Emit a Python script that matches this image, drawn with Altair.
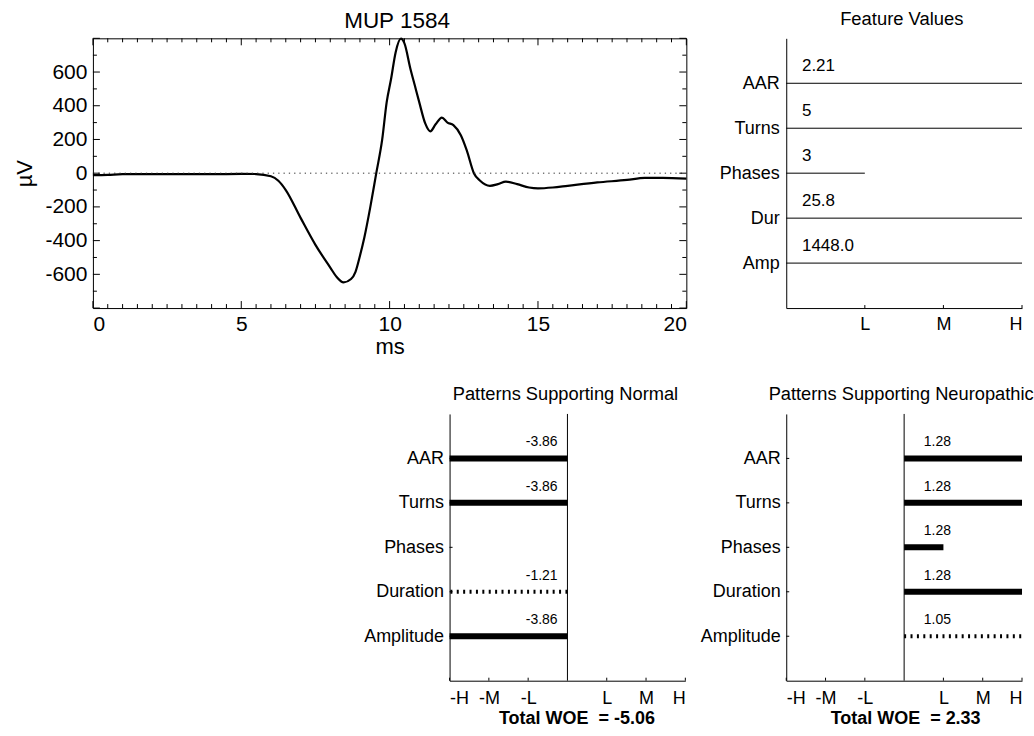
import json
import altair as alt
import pandas as pd

FONT = "Liberation Sans"

# ---- MUP waveform: time (ms) and amplitude (µV) ----
t_ms = [0, 0.5, 1, 2, 3, 4, 5, 5.5, 6.0, 6.25, 6.5, 7.0, 7.5, 8.0, 8.2, 8.45,
        8.7, 8.85, 9.0, 9.15, 9.35, 9.55, 9.75, 9.9, 10.05, 10.2, 10.38, 10.5,
        10.7, 10.85, 11.0, 11.2, 11.37, 11.55, 11.76, 11.95, 12.15, 12.4, 12.6,
        12.84, 13.05, 13.38, 13.65, 13.92, 14.3, 14.7, 15.0, 15.5, 16.0, 17.0,
        18.0, 18.6, 19.2, 20.0]
amp_uv = [-12, -10, -6, -5, -5, -6, -4, -5, -18, -45, -100, -265, -425, -560,
          -612, -648, -628, -585, -490, -380, -200, 0, 200, 420, 560, 715, 798,
          770, 620, 520, 420, 295, 248, 290, 330, 300, 285, 225, 135, 0, -45,
          -75, -65, -50, -65, -85, -90, -85, -75, -55, -40, -28, -28, -32]

# ---- Feature values ----
feature_names = ["AAR", "Turns", "Phases", "Dur", "Amp"]
feature_text = ["2.21", "5", "3", "25.8", "1448.0"]
feature_level = [3, 3, 1, 3, 3]          # 1 = L, 2 = M, 3 = H
level_names = ["L", "M", "H"]

# ---- Weight-of-evidence patterns ----
pattern_names = ["AAR", "Turns", "Phases", "Duration", "Amplitude"]
normal_woe = [-3.86, -3.86, None, -1.21, -3.86]
normal_level = [-3, -3, None, -3, -3]
normal_strength = ["strong", "strong", None, "weak", "strong"]
normal_total = -5.06
neuro_woe = [1.28, 1.28, 1.28, 1.28, 1.05]
neuro_level = [3, 3, 1, 3, 3]
neuro_strength = ["strong", "strong", "strong", "strong", "weak"]
neuro_total = 2.33

N_ROWS = len(pattern_names)


def js_list(items):
    return json.dumps(list(items))


def heading(text, x, y, xscale, yscale, xaxis, yaxis, size):
    """Panel heading drawn as a text mark just above the plot area."""
    return alt.Chart(pd.DataFrame({"x": [x], "y": [y], "t": [text]})).mark_text(
        align="center", baseline="alphabetic", fontSize=size, font=FONT,
        color="black"
    ).encode(
        x=alt.X("x:Q", scale=xscale, axis=xaxis),
        y=alt.Y("y:Q", scale=yscale, axis=yaxis),
        text="t:N",
    )


# plain hyphen for negative tick labels
HYPHEN_LABEL = "datum.value < 0 ? '-' + abs(datum.value) : '' + datum.value"

# ======================= MUP waveform panel =======================
W_MAIN, H_MAIN = 594, 270
X_DOM, Y_DOM = [0, 20], [-800, 800]
xs = alt.Scale(domain=X_DOM, nice=False, zero=False)
ys = alt.Scale(domain=Y_DOM, nice=False, zero=False)
ux = (X_DOM[1] - X_DOM[0]) / W_MAIN
uy = (Y_DOM[1] - Y_DOM[0]) / H_MAIN

main_x_axis = alt.Axis(
    values=[0, 5, 10, 15, 20], ticks=False, domain=False, grid=False,
    labelFontSize=21, labelPadding=5, labelColor="black",
    title="ms", titleFontSize=22, titleFontWeight="normal",
    titleColor="black", titlePadding=2)
main_y_axis = alt.Axis(
    values=list(range(-600, 601, 200)), labelExpr=HYPHEN_LABEL, ticks=False,
    domain=False, grid=False, labelFontSize=21, labelPadding=6,
    labelColor="black", title="µV", titleFontSize=22,
    titleFontWeight="normal", titleColor="black", titlePadding=8)

tick_rows = []
for i in range(41):                       # every 0.5 ms, long tick every 5 ms
    v = i * 0.5
    ln = 7 if i % 10 == 0 else 4
    tick_rows.append(dict(x=v, x2=v, y=Y_DOM[0], y2=Y_DOM[0] + ln * uy))
    tick_rows.append(dict(x=v, x2=v, y=Y_DOM[1], y2=Y_DOM[1] - ln * uy))
for j in range(17):                       # every 100 µV, long tick every 200
    v = Y_DOM[0] + j * 100
    ln = 7 if j % 2 == 0 else 4
    tick_rows.append(dict(x=X_DOM[0], x2=X_DOM[0] + ln * ux, y=v, y2=v))
    tick_rows.append(dict(x=X_DOM[1], x2=X_DOM[1] - ln * ux, y=v, y2=v))
ticks_df = pd.DataFrame(tick_rows)

wave = alt.Chart(pd.DataFrame({"t": t_ms, "v": amp_uv})).mark_line(
    color="black", strokeWidth=2.2, interpolate="monotone"
).encode(
    x=alt.X("t:Q", scale=xs, axis=main_x_axis),
    y=alt.Y("v:Q", scale=ys, axis=main_y_axis),
)

zero_line = alt.Chart(pd.DataFrame({"x": [X_DOM[0]], "x2": [X_DOM[1]], "y": [0]})).mark_rule(
    color="#333333", strokeWidth=1, strokeDash=[1.3, 4]
).encode(
    x=alt.X("x:Q", scale=xs, axis=main_x_axis), x2="x2:Q",
    y=alt.Y("y:Q", scale=ys, axis=main_y_axis),
)

frame_ticks = alt.Chart(ticks_df).mark_rule(color="black", strokeWidth=1).encode(
    x=alt.X("x:Q", scale=xs, axis=main_x_axis), x2="x2:Q",
    y=alt.Y("y:Q", scale=ys, axis=main_y_axis), y2="y2:Q",
)

main_title = heading("MUP 1584", 10.25, Y_DOM[1] + 10 * uy, xs, ys,
                     main_x_axis, main_y_axis, 22.5)

main = alt.layer(wave, zero_line, frame_ticks, main_title).properties(
    width=W_MAIN, height=H_MAIN,
    view=alt.ViewBackground(stroke="black", strokeWidth=1),
)

# ======================= Feature values panel =======================
W_SIDE, H_FEAT, H_PAT = 236, 270, 267
fx = alt.Scale(domain=[0, 3], nice=False, zero=False)
fy = alt.Scale(domain=[0, N_ROWS + 1], nice=False, zero=False)
row_pos = [N_ROWS - i for i in range(N_ROWS)]
feat_label_expr = js_list([""] + feature_names[::-1]) + "[datum.value]"
level_label_expr = js_list([""] + level_names) + "[datum.value]"
f_uy = (N_ROWS + 1) / H_FEAT

feat_x_axis = alt.Axis(
    values=[1, 2, 3], labelExpr=level_label_expr, ticks=False,
    domainColor="black", grid=False, labelFontSize=18, labelPadding=7,
    labelColor="black", title=None)
feat_y_axis = alt.Axis(
    values=row_pos, labelExpr=feat_label_expr, ticks=False,
    domainColor="black", grid=False, labelFontSize=18, labelPadding=7,
    labelColor="black", title=None)

feat_df = pd.DataFrame({
    "name": feature_names, "text": feature_text,
    "level": feature_level, "row": row_pos, "zero": 0,
})
feat_df["text_x"] = 0.2
feat_df["text_y"] = feat_df["row"] + 17 * f_uy

feat_lines = alt.Chart(feat_df).mark_rule(color="black", strokeWidth=1).encode(
    x=alt.X("zero:Q", scale=fx, axis=feat_x_axis), x2="level:Q",
    y=alt.Y("row:Q", scale=fy, axis=feat_y_axis),
)
feat_text = alt.Chart(feat_df).mark_text(
    align="left", baseline="middle", fontSize=17, font=FONT, color="black"
).encode(
    x=alt.X("text_x:Q", scale=fx, axis=feat_x_axis),
    y=alt.Y("text_y:Q", scale=fy, axis=feat_y_axis),
    text="text:N",
)


def inward_ticks(xscale, yscale, xaxis, yaxis, xvals, yvals, xmin, ymin, w, h, ticklen=3):
    """Short tick marks on the bottom and left axis lines, pointing inward."""
    dx = (xscale.domain[1] - xscale.domain[0]) / w
    dy = (yscale.domain[1] - yscale.domain[0]) / h
    rows = [dict(x=v, x2=v, y=ymin, y2=ymin + ticklen * dy) for v in xvals]
    rows += [dict(x=xmin, x2=xmin + ticklen * dx, y=v, y2=v) for v in yvals]
    return alt.Chart(pd.DataFrame(rows)).mark_rule(color="black", strokeWidth=1).encode(
        x=alt.X("x:Q", scale=xscale, axis=xaxis), x2="x2:Q",
        y=alt.Y("y:Q", scale=yscale, axis=yaxis), y2="y2:Q",
    )


feat_ticks = inward_ticks(fx, fy, feat_x_axis, feat_y_axis, [1, 2, 3], [], 0, 0, W_SIDE, H_FEAT)
feat_title = heading("Feature Values", 1.47, N_ROWS + 1 + 13 * f_uy, fx, fy,
                     feat_x_axis, feat_y_axis, 18.4)

feature = alt.layer(feat_lines, feat_ticks, feat_text, feat_title).properties(
    width=W_SIDE, height=H_FEAT,
)

# ======================= Pattern panels =======================
px = alt.Scale(domain=[-3, 3], nice=False, zero=False)
py = alt.Scale(domain=[0, N_ROWS + 1], nice=False, zero=False)
p_uy = (N_ROWS + 1) / H_PAT
p_ux = 6 / W_SIDE
pat_label_expr = js_list([""] + pattern_names[::-1]) + "[datum.value]"
signed_levels = [-3, -2, -1, 1, 2, 3]
signed_expr = js_list(["-" + n for n in level_names[::-1]] + [""] + level_names) + "[datum.value + 3]"


def pattern_panel(title, woe, level, strength, total, text_x, text_align,
                  total_dx, head_dx):
    df = pd.DataFrame({
        "name": pattern_names, "woe": woe, "level": level,
        "strength": strength, "row": row_pos, "zero": 0,
    }).dropna()
    df["label"] = df["woe"].map(lambda v: f"{v:.2f}")
    df["text_x"] = text_x
    df["text_y"] = df["row"] + 16 * p_uy

    axis_x = alt.Axis(
        values=signed_levels, labelExpr=signed_expr, ticks=False,
        domainColor="black", grid=False, labelFontSize=18, labelPadding=9,
        labelColor="black",
        title="Total WOE\u00a0\u00a0= " + f"{total:.2f}", titleFontSize=18,
        titleFontWeight="bold", titleColor="black", titlePadding=2,
        titleX=W_SIDE / 2 + total_dx,
    )
    axis_y = alt.Axis(
        values=row_pos, labelExpr=pat_label_expr, ticks=False,
        domainColor="black", grid=False, labelFontSize=18, labelPadding=6,
        labelColor="black", title=None,
    )
    center = alt.Chart(pd.DataFrame({"x": [0], "y": [0], "y2": [N_ROWS + 1]})).mark_rule(
        color="black", strokeWidth=1
    ).encode(
        x=alt.X("x:Q", scale=px, axis=axis_x),
        y=alt.Y("y:Q", scale=py, axis=axis_y), y2="y2:Q",
    )
    strong = alt.Chart(df).transform_filter(alt.datum.strength == "strong").mark_rule(
        color="black", strokeWidth=6, strokeCap="butt"
    ).encode(
        x=alt.X("zero:Q", scale=px, axis=axis_x), x2="level:Q",
        y=alt.Y("row:Q", scale=py, axis=axis_y),
    )
    weak = alt.Chart(df).transform_filter(alt.datum.strength == "weak").mark_rule(
        color="black", strokeWidth=4, strokeDash=[2, 4.4], strokeCap="butt"
    ).encode(
        x=alt.X("zero:Q", scale=px, axis=axis_x), x2="level:Q",
        y=alt.Y("row:Q", scale=py, axis=axis_y),
    )
    labels = alt.Chart(df).mark_text(
        align=text_align, baseline="middle", fontSize=14, font=FONT, color="black"
    ).encode(
        x=alt.X("text_x:Q", scale=px, axis=axis_x),
        y=alt.Y("text_y:Q", scale=py, axis=axis_y),
        text="label:N",
    )
    ticks = inward_ticks(px, py, axis_x, axis_y, signed_levels, row_pos, -3, 0, W_SIDE, H_PAT)
    head = heading(title, head_dx * p_ux, N_ROWS + 1 + 14 * p_uy, px, py,
                   axis_x, axis_y, 18.3)
    return alt.layer(center, ticks, strong, weak, labels, head).properties(
        width=W_SIDE, height=H_PAT,
    )


normal = pattern_panel("Patterns Supporting Normal", normal_woe, normal_level,
                       normal_strength, normal_total, -0.25, "right", 9, -2)
neuro = pattern_panel("Patterns Supporting Neuropathic", neuro_woe, neuro_level,
                      neuro_strength, neuro_total, 0.5, "left", 1, -3)

# empty cell that pushes the pattern panels to the right
spacer = alt.Chart(pd.DataFrame({"v": [0]})).mark_point(opacity=0).encode(
    x=alt.X("v:Q", axis=None), y=alt.Y("v:Q", axis=None)
).properties(width=256, height=H_PAT)

top_row = alt.hconcat(main, feature, spacing=100, bounds="flush")
bottom_row = alt.hconcat(spacer, normal, neuro, spacing=101, bounds="flush")

chart = alt.vconcat(top_row, bottom_row, spacing=27).properties(
    padding={"left": 13, "top": 9, "right": 0, "bottom": 0},
).configure(font=FONT, background="white").configure_view(strokeWidth=0)

chart.save("out.html", embed_options={"renderer": "svg", "actions": False})
